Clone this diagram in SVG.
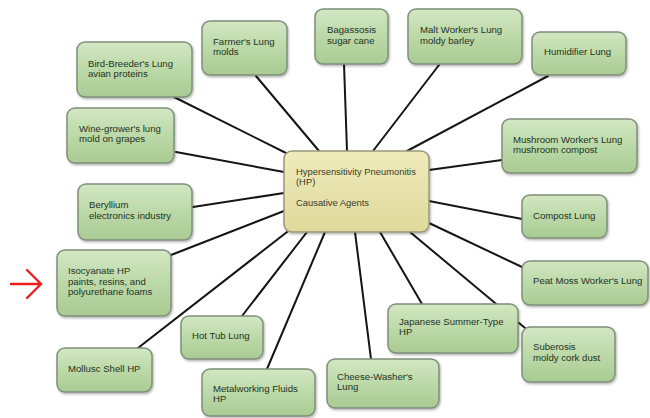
<svg xmlns="http://www.w3.org/2000/svg" width="650" height="418" viewBox="0 0 650 418">
  <defs>
    <linearGradient id="gGreen" x1="0" y1="0" x2="0" y2="1">
      <stop offset="0" stop-color="#d2e7c3"/>
      <stop offset="0.5" stop-color="#bcd9a8"/>
      <stop offset="1" stop-color="#a9cb93"/>
    </linearGradient>
    <linearGradient id="gYellow" x1="0" y1="0" x2="0" y2="1">
      <stop offset="0" stop-color="#efebbb"/>
      <stop offset="1" stop-color="#dfd99c"/>
    </linearGradient>
    <filter id="sh" x="-10%" y="-10%" width="125%" height="130%">
      <feDropShadow dx="1" dy="1.5" stdDeviation="1" flood-color="#000" flood-opacity="0.3"/>
    </filter>
  </defs>
  <style>
    .node rect { fill: url(#gGreen); stroke: #7f8f7a; stroke-width: 1.5; filter: url(#sh); }
    .center rect { fill: url(#gYellow); stroke: #9a9878; stroke-width: 1.5; filter: url(#sh); }
    text { font-family: "Liberation Sans", Arial, sans-serif; font-size: 9.6px; fill: #24331f; }
    .center text { font-size: 9.4px; fill: #3a3a2a; }
    .conn line { stroke: #151515; stroke-width: 2; stroke-linecap: round; }
  </style>
  <rect width="650" height="418" fill="#ffffff"/>

  <g id="connectors" class="conn">
    <line x1="288" y1="154" x2="174" y2="97"/>
    <line x1="319" y1="151" x2="256" y2="76"/>
    <line x1="347" y1="151" x2="344" y2="64"/>
    <line x1="373" y1="151" x2="439" y2="65"/>
    <line x1="407" y1="151" x2="548" y2="76"/>
    <line x1="284" y1="172" x2="176" y2="152"/>
    <line x1="429" y1="170" x2="502" y2="160"/>
    <line x1="284" y1="193" x2="193" y2="207"/>
    <line x1="429" y1="201" x2="522" y2="219"/>
    <line x1="284" y1="211" x2="171" y2="255"/>
    <line x1="429" y1="223" x2="522" y2="267"/>
    <line x1="287" y1="232" x2="138" y2="348"/>
    <line x1="307" y1="232" x2="242" y2="316"/>
    <line x1="325" y1="232" x2="267" y2="369"/>
    <line x1="355" y1="232" x2="371" y2="359"/>
    <line x1="380" y1="232" x2="422" y2="304"/>
    <line x1="410" y1="232" x2="525" y2="328"/>
  </g>

  <g id="center" class="center">
    <rect x="284" y="151" width="145" height="81" rx="8"/>
    <text x="296" y="175">Hypersensitivity Pneumonitis</text>
    <text x="296" y="185">(HP)</text>
    <text x="296" y="206">Causative Agents</text>
  </g>

  <g id="bird" class="node">
    <rect x="77" y="42" width="115" height="55" rx="8"/>
    <text x="88" y="67">Bird-Breeder's Lung</text>
    <text x="88" y="77">avian proteins</text>
  </g>
  <g id="farmer" class="node">
    <rect x="202" y="21" width="85" height="54" rx="8"/>
    <text x="213" y="45">Farmer's Lung</text>
    <text x="213" y="55">molds</text>
  </g>
  <g id="bagassosis" class="node">
    <rect x="315" y="9" width="73" height="55" rx="8"/>
    <text x="327" y="33">Bagassosis</text>
    <text x="327" y="44">sugar cane</text>
  </g>
  <g id="malt" class="node">
    <rect x="408" y="9" width="114" height="55" rx="8"/>
    <text x="420" y="33">Malt Worker's Lung</text>
    <text x="420" y="44">moldy barley</text>
  </g>
  <g id="humidifier" class="node">
    <rect x="532" y="32" width="94" height="43" rx="8"/>
    <text x="544" y="55">Humidifier Lung</text>
  </g>
  <g id="wine" class="node">
    <rect x="67" y="108" width="107" height="55" rx="8"/>
    <text x="79" y="132">Wine-grower's lung</text>
    <text x="79" y="142">mold on grapes</text>
  </g>
  <g id="mushroom" class="node">
    <rect x="502" y="119" width="135" height="54" rx="8"/>
    <text x="513" y="143">Mushroom Worker's Lung</text>
    <text x="513" y="153">mushroom compost</text>
  </g>
  <g id="beryllium" class="node">
    <rect x="78" y="184" width="114" height="56" rx="8"/>
    <text x="89" y="208">Beryllium</text>
    <text x="89" y="219">electronics industry</text>
  </g>
  <g id="compost" class="node">
    <rect x="522" y="195" width="85" height="43" rx="8"/>
    <text x="533" y="219">Compost Lung</text>
  </g>
  <g id="isocyanate" class="node">
    <rect x="57" y="250" width="114" height="66" rx="8"/>
    <text x="68" y="274">Isocyanate HP</text>
    <text x="68" y="285">paints, resins, and</text>
    <text x="68" y="295">polyurethane foams</text>
  </g>
  <g id="peat" class="node">
    <rect x="522" y="261" width="126" height="44" rx="8"/>
    <text x="533" y="284">Peat Moss Worker's Lung</text>
  </g>
  <g id="japanese" class="node">
    <rect x="388" y="304" width="130" height="49" rx="8"/>
    <text x="399" y="325">Japanese Summer-Type</text>
    <text x="399" y="335">HP</text>
  </g>
  <g id="suberosis" class="node">
    <rect x="522" y="327" width="93" height="55" rx="8"/>
    <text x="533" y="350">Suberosis</text>
    <text x="533" y="361">moldy cork dust</text>
  </g>
  <g id="hottub" class="node">
    <rect x="181" y="316" width="82" height="43" rx="8"/>
    <text x="192" y="339">Hot Tub Lung</text>
  </g>
  <g id="mollusc" class="node">
    <rect x="57" y="348" width="95" height="44" rx="8"/>
    <text x="68" y="372">Mollusc Shell HP</text>
  </g>
  <g id="metalworking" class="node">
    <rect x="202" y="369" width="113" height="47" rx="8"/>
    <text x="213" y="392">Metalworking Fluids</text>
    <text x="213" y="402">HP</text>
  </g>
  <g id="cheese" class="node">
    <rect x="327" y="359" width="112" height="49" rx="8"/>
    <text x="337" y="380">Cheese-Washer's</text>
    <text x="337" y="390">Lung</text>
  </g>

  <g id="red-arrow" fill="none" stroke="#ee1c1c" stroke-width="2.4" stroke-linecap="round" stroke-linejoin="round">
    <line x1="11" y1="284" x2="41" y2="284"/>
    <polyline points="27,270 41,284 27,298"/>
  </g>
</svg>
